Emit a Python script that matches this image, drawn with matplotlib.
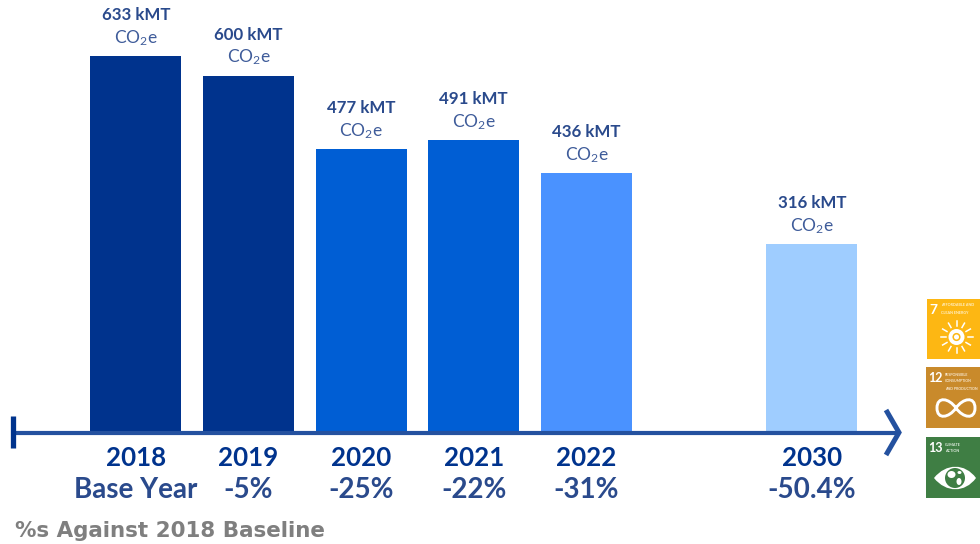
import numpy as np
import matplotlib
matplotlib.use("Agg")
import matplotlib.pyplot as plt
from matplotlib.patches import Rectangle, Ellipse, Circle
from matplotlib.path import Path
from matplotlib.patches import PathPatch

plt.rcParams['font.family'] = ['Lato', 'DejaVu Sans']
plt.rcParams['mathtext.fontset'] = 'custom'
plt.rcParams['mathtext.rm'] = 'Lato'
plt.rcParams['mathtext.default'] = 'rm'

slots = [0, 1, 2, 3, 4, 6]
years = ['2018', '2019', '2020', '2021', '2022', '2030']
emissions = [633, 600, 477, 491, 436, 316]
changes = ['Base Year', '-5%', '-25%', '-22%', '-31%', '-50.4%']
bar_colors = ['#00338D', '#00338D', '#005ED4', '#005ED4', '#4A92FF', '#9FCDFF']

NAVY = '#00338D'
LABEL = '#2A4A8C'
SUB = '#3F5C9A'
AXIS = '#24519F'

fig = plt.figure(figsize=(9.8, 5.44), dpi=100)
ax = fig.add_axes([0, 0, 1, 1])
ax.set_xlim(-135.8 / 112.67, (980 - 135.8) / 112.67)
ax.set_ylim(-112 / 0.594, 432 / 0.594)
ax.axis('off')

ax.bar(slots, emissions, width=0.808, color=bar_colors, linewidth=0, zorder=2)

for x, v, y, c in zip(slots, emissions, years, changes):
    ax.annotate(f'{v} kMT', (x, v), xytext=(0, 41), textcoords='offset pixels',
                ha='center', va='center', fontsize=12.2, fontweight='bold', color=LABEL)
    ax.annotate('CO$_2$e', (x, v), xytext=(0, 18), textcoords='offset pixels',
                ha='center', va='center', fontsize=12.5, color=SUB)
    ax.annotate(y, (x, 0), xytext=(0, -25.5), textcoords='offset pixels',
                ha='center', va='center', fontsize=18.6, fontweight='bold', color=NAVY)
    ax.annotate(c, (x, 0), xytext=(0, -58.5), textcoords='offset pixels',
                ha='center', va='center', fontsize=20, fontweight='bold', color=LABEL)

# overlay in pixel coordinates for axis decoration and badges
ov = fig.add_axes([0, 0, 1, 1], zorder=5)
ov.set_xlim(0, 980)
ov.set_ylim(544, 0)
ov.axis('off')
ov.patch.set_alpha(0)

ov.plot([13, 898], [432.5, 432.5], color=AXIS, lw=3, solid_capstyle='butt')
ov.plot([13, 13], [416, 448], color=NAVY, lw=3.8, solid_capstyle='butt')
ov.plot([886, 899, 886], [410, 432.5, 455], color=AXIS, lw=3.6,
        solid_capstyle='butt', solid_joinstyle='miter')

ov.text(15, 531, '%s Against 2018 Baseline', ha='left', va='center', fontsize=15.4,
        fontweight='bold', color='#7F7F7F', family=['DejaVu Sans'])

# SDG 7
ov.add_patch(Rectangle((927, 299), 53, 60, color='#FDB713', lw=0))
ov.text(929.5, 309.5, '7', color='white', fontsize=10, fontweight='bold', va='center')
ov.text(941, 305.5, 'AFFORDABLE AND', color='#FFF0C8', fontsize=2.7, fontweight='bold', va='center')
ov.text(941, 312.5, 'CLEAN ENERGY', color='#FFF0C8', fontsize=2.7, fontweight='bold', va='center')
cx, cy = 956.5, 337
for a in np.arange(0, 360, 30):
    r = np.radians(a)
    ov.plot([cx + 11 * np.cos(r), cx + 16 * np.cos(r)],
            [cy + 11 * np.sin(r), cy + 16 * np.sin(r)], color='white', lw=1.1)
ov.add_patch(Circle((cx, cy), 8, color='white', lw=0))
ov.add_patch(Circle((cx, cy), 3.3, fill=False, ec='#FDB713', lw=1.1))

# SDG 12
ov.add_patch(Rectangle((926, 367), 54, 61, color='#C98A2B', lw=0))
ov.text(928.5, 378, '12', color='white', fontsize=9, fontweight='bold', va='center')
for yy, s in zip((374.5, 381.5, 388.5), ('RESPONSIBLE', 'CONSUMPTION', 'AND PRODUCTION')):
    ov.text(945, yy, s, color='#F5E3C8', fontsize=2.6, fontweight='bold', va='center')
loop = [(956, 408), (963, 398), (975, 396), (975, 408), (975, 420), (963, 418), (956, 408),
        (949, 398), (937, 396), (937, 408), (937, 420), (949, 418), (956, 408)]
loop_codes = [Path.MOVETO] + [Path.CURVE4] * 12
ov.add_patch(PathPatch(Path(loop, loop_codes), fill=False, ec='white', lw=2.1))

# SDG 13
ov.add_patch(Rectangle((926, 437), 54, 61, color='#3F7E44', lw=0))
ov.text(928.5, 448, '13', color='white', fontsize=9, fontweight='bold', va='center')
ov.text(945, 444.5, 'CLIMATE', color='#DDEBDD', fontsize=2.7, fontweight='bold', va='center')
ov.text(945, 451.5, 'ACTION', color='#DDEBDD', fontsize=2.7, fontweight='bold', va='center')
verts = [(934, 478), (946, 463), (965, 463), (976, 478), (965, 493), (946, 493), (934, 478)]
codes = [Path.MOVETO, Path.CURVE4, Path.CURVE4, Path.CURVE4, Path.CURVE4, Path.CURVE4, Path.CURVE4]
ov.add_patch(PathPatch(Path(verts, codes), fc='white', ec='none'))
ov.add_patch(Circle((955, 478), 10, color='#3F7E44', lw=0))
ov.add_patch(Ellipse((951.5, 474.5), 8, 7, color='white', lw=0))
ov.add_patch(Ellipse((959, 481.5), 5, 7, color='white', lw=0))
ov.add_patch(Ellipse((959.5, 472.5), 4, 3, color='white', lw=0))

fig.savefig('out.png', dpi=100)
